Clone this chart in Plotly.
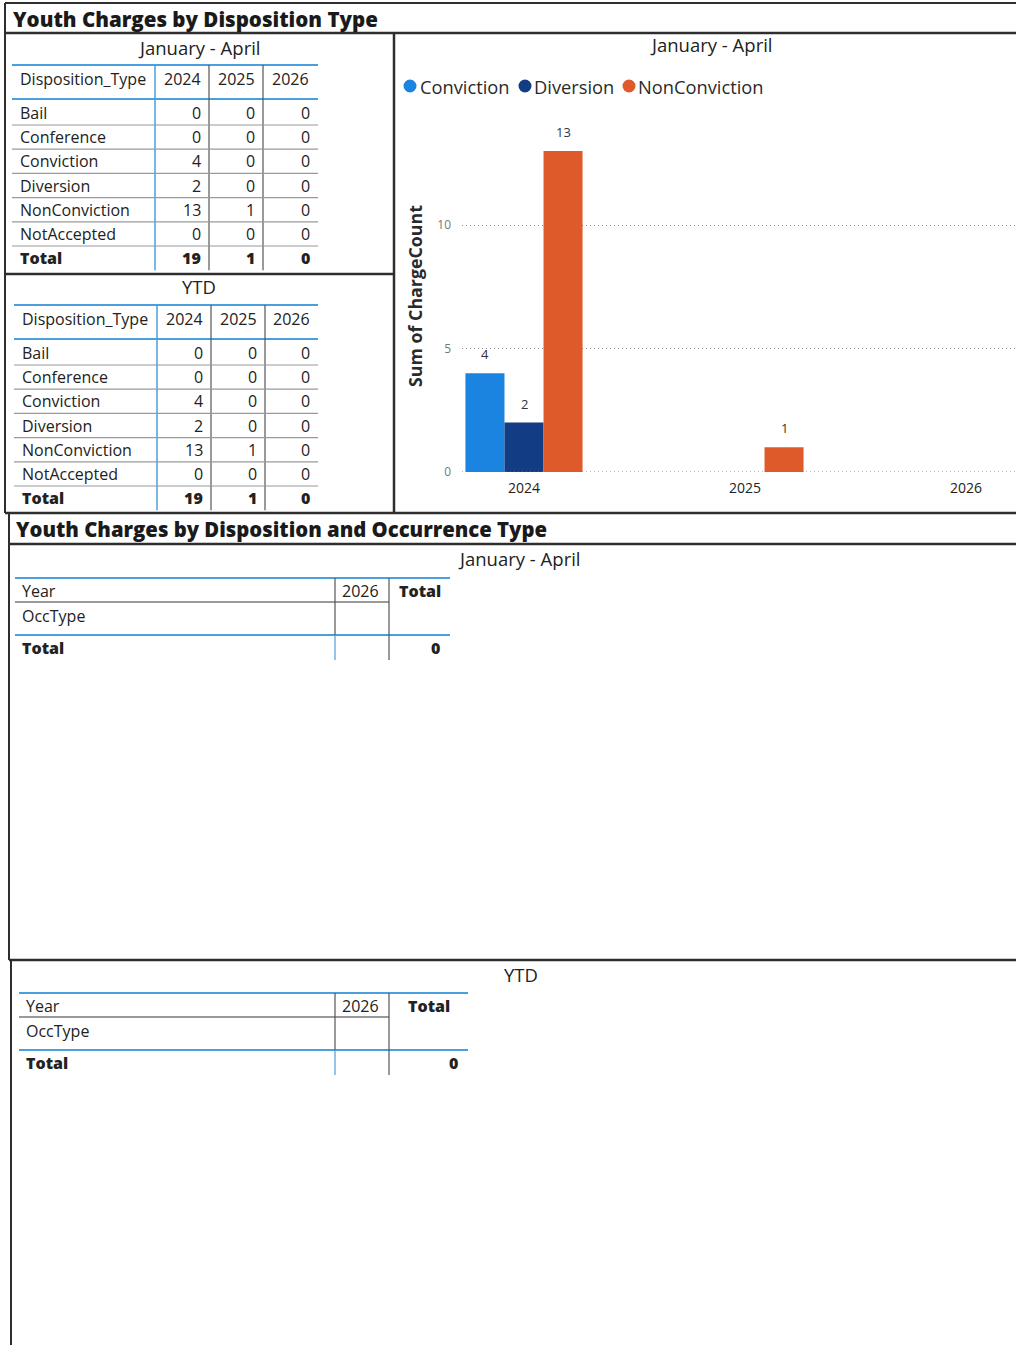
import plotly.graph_objects as go

# ---------------------------------------------------------------- data
disposition_types = ["Bail", "Conference", "Conviction", "Diversion", "NonConviction", "NotAccepted"]
years = ["2024", "2025", "2026"]

jan_apr_2024 = [0, 0, 4, 2, 13, 0]
jan_apr_2025 = [0, 0, 0, 0, 1, 0]
jan_apr_2026 = [0, 0, 0, 0, 0, 0]

ytd_2024 = [0, 0, 4, 2, 13, 0]
ytd_2025 = [0, 0, 0, 0, 1, 0]
ytd_2026 = [0, 0, 0, 0, 0, 0]

chart_series = ["Conviction", "Diversion", "NonConviction"]
series_colors = ["#1a84e0", "#123c84", "#df5a2b"]

occ_years = ["2026"]
occ_total_jan_apr = 0
occ_total_ytd = 0

# ---------------------------------------------------------------- page geometry helpers
W, H = 1016, 1353
V_SPAN = 1345          # layout units per page height used for vertical placement
FONT = "Open Sans"
TEXT = "#222222"
FRAME = "#2e2e2e"
BLUE_RULE = "#4a9fdc"
GRAY_RULE = "#9a9a9a"


def X(px):
    return px / W


def Y(py):
    return max(0.0, 1 - py / V_SPAN)


shapes = []
annotations = []


def hline(y, x0, x1, color=FRAME, width=2):
    shapes.append(dict(type="line", xref="paper", yref="paper",
                       x0=X(x0), x1=X(x1), y0=Y(y), y1=Y(y),
                       line=dict(color=color, width=width)))


def vline(x, y0, y1, color=FRAME, width=2):
    shapes.append(dict(type="line", xref="paper", yref="paper",
                       x0=X(x), x1=X(x), y0=Y(y0), y1=Y(y1),
                       line=dict(color=color, width=width)))


def label(x, y, s, size=16, anchor="left", bold=False, color=TEXT, weight=None):
    f = dict(family=FONT, size=size, color=color)
    if weight is not None:
        f["weight"] = weight
    elif bold:
        f["weight"] = "bold"
    annotations.append(dict(xref="paper", yref="paper", x=X(x), y=Y(y), text=s,
                            showarrow=False, xanchor=anchor, yanchor="middle",
                            font=f))


# ---------------------------------------------------------------- report frames
hline(3, 5, W, width=2)
hline(33, 5, W, width=2.5)
vline(5, 3, 513, width=2)
vline(394, 33, 513, width=2.5)
hline(274, 5, 394, width=2.5)
hline(513, 5, W, width=2.5)
hline(544, 9, W, width=2.5)
vline(9, 513, 960, width=2)
hline(960, 9, W, width=2.5)
vline(11, 960, 1400, width=2)

label(11, 19, "Youth Charges by Disposition Type", size=20.5, weight=800, color="#1a1a1a")
label(14, 529, "Youth Charges by Disposition and Occurrence Type", size=20.3, weight=800, color="#1a1a1a")

TS = 16  # table text size


# ---------------------------------------------------------------- disposition matrices
def disposition_table(caption, caption_y, top, dx, cols):
    left, right = 12 + dx, 318
    col_lines = [155 + dx, 209 + dx, 263 + dx]
    label(199, caption_y, caption, size=18.5, anchor="center")
    hline(top, left, right, BLUE_RULE, 2)
    hline(top + 34, left, right, BLUE_RULE, 2)
    header_y = top + 14
    label(left + 6, header_y, "Disposition_Type", size=TS)
    edges = col_lines + [right]
    for i, yr in enumerate(years):
        label((edges[i] + edges[i + 1]) / 2, header_y, yr, size=TS, anchor="center")
    step = 24.2
    first = top + 48
    bottom = first + step * len(disposition_types) + 12
    vline(col_lines[0], top, bottom, BLUE_RULE, 1.5)
    for cx in col_lines[1:]:
        vline(cx, top, bottom, "#555555", 1.2)
    for r, name in enumerate(disposition_types):
        ry = first + r * step
        label(left + 6, ry, name, size=TS)
        for c, values in enumerate(cols):
            label(edges[c + 1] - 6, ry, str(values[r]), size=TS, anchor="right")
        hline(ry + 12, left, right, GRAY_RULE, 1.2)
    ty = first + len(disposition_types) * step
    label(left + 6, ty, "Total", size=TS, weight=800)
    for c, values in enumerate(cols):
        label(edges[c + 1] - 6, ty, str(sum(values)), size=TS, anchor="right", weight=800)


disposition_table("January - April", 47, 65, 0, [jan_apr_2024, jan_apr_2025, jan_apr_2026])
disposition_table("YTD", 287, 305, 2, [ytd_2024, ytd_2025, ytd_2026])


# ---------------------------------------------------------------- occurrence type matrices
def occurrence_table(caption, cap_x, cap_y, top, left, right, total_value):
    c1, c2 = 335, 389
    label(cap_x, cap_y, caption, size=18.5, anchor="center")
    hline(top, left, right, BLUE_RULE, 2)
    hline(top + 24, left, c2, "#777777", 1.5)
    hline(top + 57, left, right, BLUE_RULE, 2)
    bottom = top + 82
    vline(c1, top, top + 57, "#555555", 1.2)
    vline(c1, top + 57, bottom, BLUE_RULE, 1.2)
    vline(c2, top, bottom, "#555555", 1.2)
    label(left + 5, top + 13, "Year", size=TS)
    label(c2 - 8, top + 13, occ_years[0], size=TS, anchor="right")
    label((c2 + right) / 2, top + 13, "Total", size=TS, anchor="center", weight=800)
    label(left + 5, top + 38, "OccType", size=TS)
    label(left + 5, top + 70, "Total", size=TS, weight=800)
    label(right - 8, top + 70, str(total_value), size=TS, anchor="right", weight=800)


occurrence_table("January - April", 519, 558, 578, 15, 450, occ_total_jan_apr)
occurrence_table("YTD", 521, 974, 993, 19, 468, occ_total_ytd)

# ---------------------------------------------------------------- column chart
label(711, 45, "January - April", size=18.5, anchor="center")

per_series = {
    "Conviction": [jan_apr_2024[2], jan_apr_2025[2], jan_apr_2026[2]],
    "Diversion": [jan_apr_2024[3], jan_apr_2025[3], jan_apr_2026[3]],
    "NonConviction": [jan_apr_2024[4], jan_apr_2025[4], jan_apr_2026[4]],
}

BARGAP = 0.47
bar_w = (1 - BARGAP) / len(chart_series)
xpos = list(range(len(years)))

fig = go.Figure()
for k, name in enumerate(chart_series):
    vals = [v if v else None for v in per_series[name]]
    fig.add_trace(go.Bar(x=xpos, y=vals, name=name,
                         marker=dict(color=series_colors[k], line=dict(width=0)),
                         showlegend=False, hoverinfo="skip"))
    for i, v in enumerate(vals):
        if v:
            annotations.append(dict(xref="x", yref="y", x=i + (k - 1) * bar_w, y=v,
                                    yshift=19, text=str(v), showarrow=False,
                                    xanchor="center", yanchor="middle",
                                    font=dict(family=FONT, size=13, color="#333333")))

# legend: coloured dots followed by series names
legend_items = [(410, 418), (525, 532), (629, 636)]
for (cx, tx), name, col in zip(legend_items, chart_series, series_colors):
    shapes.append(dict(type="circle", xref="paper", yref="paper",
                       x0=X(cx - 6.5), x1=X(cx + 6.5), y0=Y(92.5), y1=Y(79.5),
                       fillcolor=col, line=dict(width=0)))
    label(tx, 86, name, size=18.3, color="#2a2a2a")

# y axis title
annotations.append(dict(xref="paper", yref="paper", x=X(415), y=Y(296), text="Sum of ChargeCount",
                        showarrow=False, textangle=-90, xanchor="center", yanchor="middle",
                        font=dict(family=FONT, size=17.8, color="#2a2a2a", weight="bold")))

# dotted baseline at zero
shapes.append(dict(type="line", xref="x domain", yref="y", x0=0, x1=1, y0=0, y1=0,
                   line=dict(color="#777777", width=1.2, dash="1px,3px")))

Y0_PX, PX_PER_UNIT, Y_MAX = 472, 24.7, 15
fig.update_layout(
    width=W, height=H, autosize=False,
    margin=dict(l=0, r=0, t=0, b=0),
    paper_bgcolor="white", plot_bgcolor="white",
    barmode="group", bargap=BARGAP, bargroupgap=0,
    xaxis=dict(domain=[X(462), 1], range=[-(524 - 462) / 221, 2 + (W - 966) / 221],
               tickmode="array", tickvals=xpos, ticktext=years,
               showgrid=False, zeroline=False, showline=False, ticks="",
               tickfont=dict(family=FONT, size=14, color="#222222"),
               ticklabelstandoff=6, fixedrange=True),
    yaxis=dict(domain=[Y(Y0_PX), Y(Y0_PX - Y_MAX * PX_PER_UNIT)], range=[0, Y_MAX],
               tickmode="array", tickvals=[0, 5, 10],
               showgrid=True, gridcolor="#8a8a8a", griddash="1px,3px", gridwidth=1.2,
               zeroline=False, showline=False, ticks="",
               tickfont=dict(family=FONT, size=12, color="#777777"),
               ticklabelstandoff=10, fixedrange=True),
    shapes=shapes,
    annotations=annotations,
)

fig.write_html("out.html")
